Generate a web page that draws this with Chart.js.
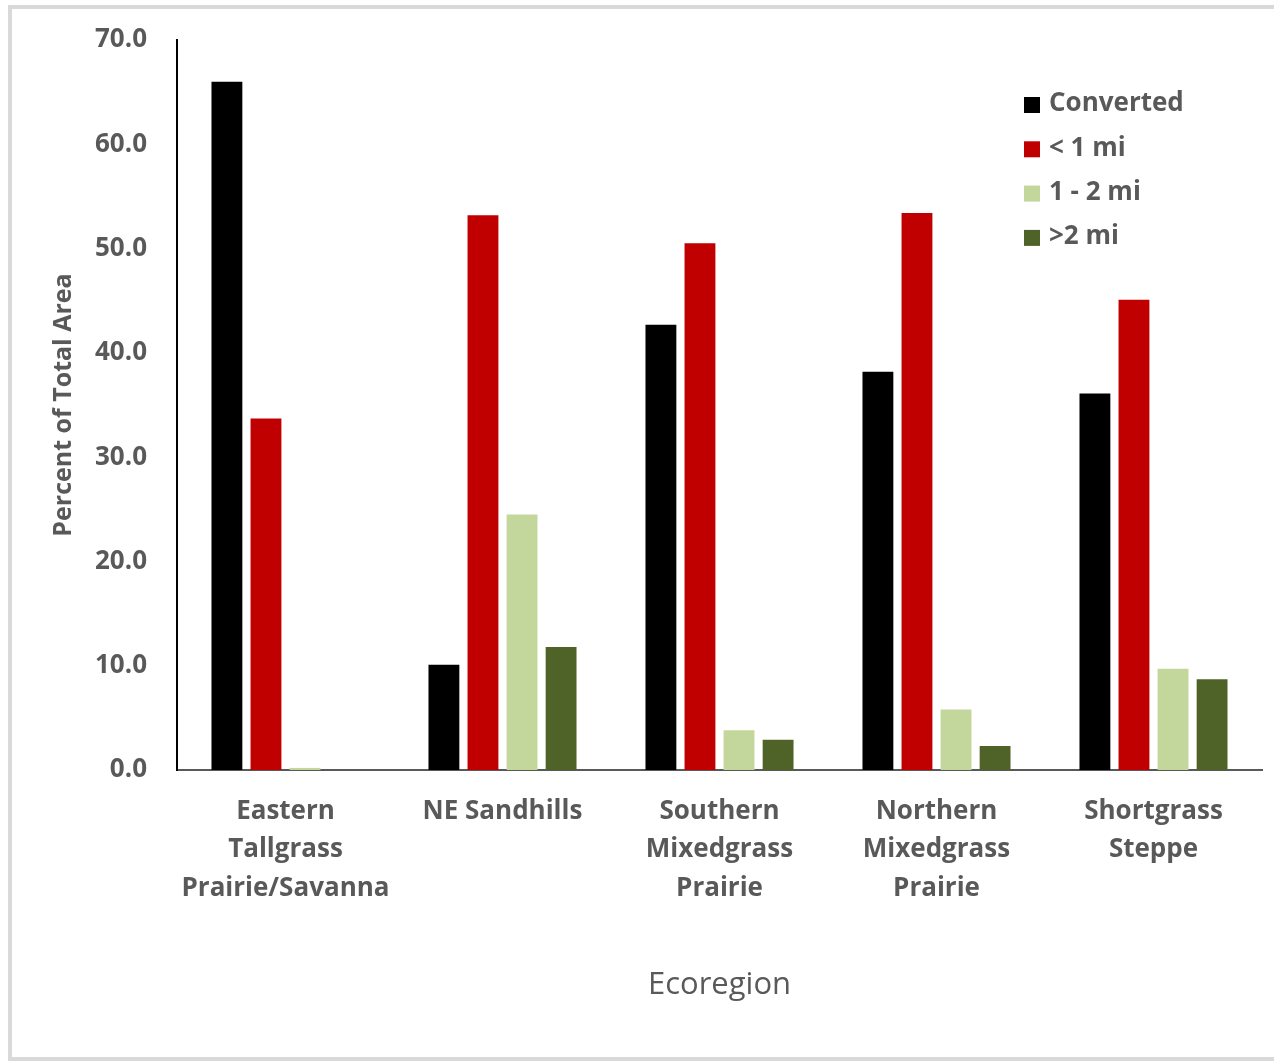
<!DOCTYPE html>
<html>
<head>
<meta charset="utf-8">
<script src="https://cdn.jsdelivr.net/npm/chart.js@4.4.1/dist/chart.umd.min.js"></script>
<style>
  html, body { margin: 0; padding: 0; background: #fff; }
  #wrap { position: relative; width: 1274px; height: 1061px; overflow: hidden; }
  #frame {
    position: absolute; left: 8px; top: 5px; width: 1300px; height: 1048px;
    border: 4px solid #d9d9d9; border-right: none; pointer-events: none;
  }
</style>
</head>
<body>
<div id="wrap">
  <canvas id="chart" width="1274" height="1061"></canvas>
  <div id="frame"></div>
</div>
<script>
// Ecoregions along the x axis
const categories = [
  ["Eastern", "Tallgrass", "Prairie/Savanna"],
  "NE Sandhills",
  ["Southern", "Mixedgrass", "Prairie"],
  ["Northern", "Mixedgrass", "Prairie"],
  ["Shortgrass", "Steppe"]
];

// Percent of total area
const converted = [66.0, 10.1, 42.7, 38.2, 36.1];
const underOneMi = [33.7, 53.2, 50.5, 53.4, 45.1];
const oneToTwoMi = [0.2, 24.5, 3.8, 5.8, 9.7];
const overTwoMi = [0.0, 11.8, 2.9, 2.3, 8.7];

const seriesNames = ["Converted", "< 1 mi", "1 - 2 mi", ">2 mi"];
const seriesColors = ["#000000", "#c00000", "#c3d69b", "#4f6228"];

// y axis ticks
const yMin = 0;
const yMax = 70;
const yStep = 10;

const textGrey = "#595959";
const fontFamily = "'Open Sans', 'DejaVu Sans', sans-serif";

// Legend sits inside the plot area, top right
const insideLegend = {
  id: "insideLegend",
  afterDraw(chart) {
    const ctx = chart.ctx;
    const area = chart.chartArea;
    const x0 = area.right - 238;
    const y0 = area.top + 64;
    ctx.save();
    ctx.font = "700 26px " + fontFamily;
    ctx.textBaseline = "middle";
    ctx.textAlign = "left";
    chart.data.datasets.forEach((ds, i) => {
      const y = y0 + i * 44.3;
      ctx.fillStyle = ds.backgroundColor;
      ctx.fillRect(x0, y - 7, 16, 16);
      ctx.fillStyle = textGrey;
      ctx.fillText(ds.label, x0 + 25, y);
    });
    ctx.restore();
  }
};

const values = [converted, underOneMi, oneToTwoMi, overTwoMi];

new Chart(document.getElementById("chart"), {
  type: "bar",
  data: {
    labels: categories,
    datasets: values.map((v, i) => ({
      label: seriesNames[i],
      data: v,
      backgroundColor: seriesColors[i],
      borderWidth: 0,
      categoryPercentage: 0.72,
      barPercentage: 0.79
    }))
  },
  options: {
    responsive: false,
    animation: false,
    layout: { padding: { left: 0, top: 40, right: 12, bottom: 0 } },
    plugins: {
      legend: { display: false },
      tooltip: { enabled: false }
    },
    scales: {
      x: {
        grid: { display: false, drawTicks: false },
        border: { display: true, color: textGrey, width: 2 },
        ticks: {
          color: textGrey,
          padding: 22,
          maxRotation: 0,
          autoSkip: false,
          font: { family: fontFamily, size: 26, weight: 700, lineHeight: 1.48 }
        },
        title: {
          display: true,
          text: "Ecoregion",
          color: textGrey,
          font: { family: fontFamily, size: 31, weight: 400, lineHeight: 1.2 },
          padding: { top: 0, bottom: 57 }
        },
        afterFit(scale) { scale.height = 1061 - 770; }
      },
      y: {
        min: yMin,
        max: yMax,
        grid: { display: false, drawTicks: false },
        border: { display: true, color: "#000000", width: 2 },
        ticks: {
          stepSize: yStep,
          color: textGrey,
          padding: 30,
          // small line height keeps the top label from pushing the plot down
          font: { family: fontFamily, size: 26, weight: 700, lineHeight: 0.7 },
          callback: (v) => Number(v).toFixed(1)
        },
        title: {
          display: true,
          text: "Percent of Total Area",
          color: textGrey,
          font: { family: fontFamily, size: 25, weight: 700, lineHeight: 1.2 },
          padding: { top: 49, bottom: 0 }
        },
        afterFit(scale) { scale.width = 177; }
      }
    }
  },
  plugins: [insideLegend]
});
</script>
</body>
</html>
